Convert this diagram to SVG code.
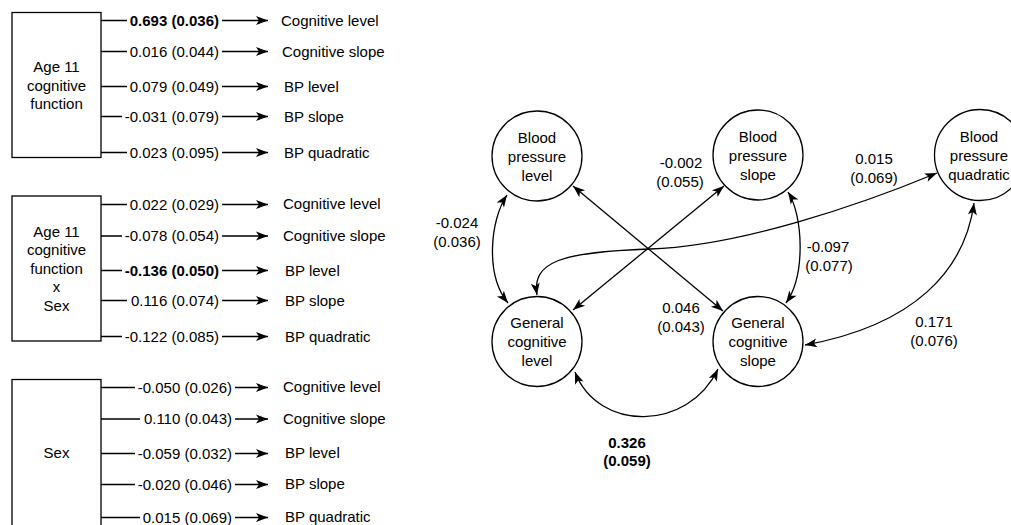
<svg xmlns="http://www.w3.org/2000/svg" width="1011" height="525" viewBox="0 0 1011 525">
<style>
text{font-family:"Liberation Sans",Arial,sans-serif;font-size:15px;fill:#000}
.b{font-weight:bold}
.m{text-anchor:middle}
.e{text-anchor:end}
.box,.node{fill:#fff;stroke:#000;stroke-width:1.3}
.c{fill:none;stroke:#000;stroke-width:1.3}
.a{marker-end:url(#ah)}
.aa{marker-start:url(#ah);marker-end:url(#ah)}
</style>
<defs>
<marker id="ah" markerUnits="userSpaceOnUse" markerWidth="13" markerHeight="10" refX="12" refY="4.5" orient="auto-start-reverse" overflow="visible">
<path d="M0,0 L12,4.5 L0,9 L3,4.5 z" fill="#000"/>
</marker>
</defs>
<rect width="1011" height="525" fill="#fff"/>

<g id="box-age11">
<rect class="box" x="12" y="12.5" width="89" height="145"/>
<text class="m" x="56.5" y="72">Age 11</text>
<text class="m" x="56.5" y="91">cognitive</text>
<text class="m" x="56.5" y="109">function</text>
</g>
<g id="box-age11xsex">
<rect class="box" x="12" y="196" width="89" height="145"/>
<text class="m" x="56.5" y="237">Age 11</text>
<text class="m" x="56.5" y="255">cognitive</text>
<text class="m" x="56.5" y="274">function</text>
<text class="m" x="56.5" y="292">x</text>
<text class="m" x="56.5" y="311">Sex</text>
</g>
<g id="box-sex">
<rect class="box" x="12" y="379.5" width="89" height="160"/>
<text class="m" x="56.5" y="458">Sex</text>
</g>

<g id="left-targets">
<text x="281" y="26">Cognitive level</text>
<text x="282" y="57">Cognitive slope</text>
<text x="284" y="92">BP level</text>
<text x="284" y="122">BP slope</text>
<text x="284" y="158">BP quadratic</text>
<text x="283" y="209">Cognitive level</text>
<text x="283" y="241">Cognitive slope</text>
<text x="285" y="276">BP level</text>
<text x="285" y="306">BP slope</text>
<text x="285" y="342">BP quadratic</text>
<text x="283" y="392">Cognitive level</text>
<text x="283" y="424">Cognitive slope</text>
<text x="285" y="458">BP level</text>
<text x="285" y="489">BP slope</text>
<text x="285" y="522">BP quadratic</text>
</g>

<g id="connectors">
<!-- box 1 -->
<path class="c" d="M101,20.5H127 M222,20.5H268" style="marker-end:url(#ah)"/>
<path class="c" d="M101,51.5H127 M222,51.5H268" style="marker-end:url(#ah)"/>
<path class="c" d="M101,86.5H127 M222,86.5H268" style="marker-end:url(#ah)"/>
<path class="c" d="M101,116.5H122 M222,116.5H268" style="marker-end:url(#ah)"/>
<path class="c" d="M101,152.5H127 M222,152.5H268" style="marker-end:url(#ah)"/>
<!-- box 2 -->
<path class="c" d="M101,204.5H127 M222,204.5H268" style="marker-end:url(#ah)"/>
<path class="c" d="M101,236H122 M222,236H268" style="marker-end:url(#ah)"/>
<path class="c" d="M101,270.5H122 M222,270.5H268" style="marker-end:url(#ah)"/>
<path class="c" d="M101,300.5H127 M222,300.5H268" style="marker-end:url(#ah)"/>
<path class="c" d="M101,336.5H122 M222,336.5H268" style="marker-end:url(#ah)"/>
<!-- box 3 -->
<path class="c" d="M101,387.5H135 M235,387.5H268" style="marker-end:url(#ah)"/>
<path class="c" d="M101,419H140 M235,419H268" style="marker-end:url(#ah)"/>
<path class="c" d="M101,453.5H135 M235,453.5H268" style="marker-end:url(#ah)"/>
<path class="c" d="M101,484.5H135 M235,484.5H268" style="marker-end:url(#ah)"/>
<path class="c" d="M101,517.5H140 M235,517.5H268" style="marker-end:url(#ah)"/>

<!-- right diagram -->
<path class="c aa" d="M507,195 C490,220 485,275 508,303"/>
<path class="c aa" d="M573,186 L723,311"/>
<path class="c aa" d="M724,186 L573,310"/>
<path class="c aa" d="M788,192 C803,215 806,275 786,303"/>
<path class="c aa" d="M537,295 C532,262 560,252 650,249 C740,246 860,205 937,173"/>
<path class="c aa" d="M974,203 C965,270 915,325 805,345"/>
<path class="c aa" d="M575,372 C598,432 688,432 718,369"/>
</g>

<g id="left-coefficients">
<text class="e b" x="219" y="26">0.693 (0.036)</text>
<text class="e" x="219" y="57">0.016 (0.044)</text>
<text class="e" x="219" y="92">0.079 (0.049)</text>
<text class="e" x="219" y="122">-0.031 (0.079)</text>
<text class="e" x="219" y="158">0.023 (0.095)</text>
<text class="e" x="219" y="210">0.022 (0.029)</text>
<text class="e" x="219" y="241">-0.078 (0.054)</text>
<text class="e b" x="219" y="276">-0.136 (0.050)</text>
<text class="e" x="219" y="306">0.116 (0.074)</text>
<text class="e" x="219" y="342">-0.122 (0.085)</text>
<text class="e" x="232" y="393">-0.050 (0.026)</text>
<text class="e" x="232" y="424">0.110 (0.043)</text>
<text class="e" x="232" y="459">-0.059 (0.032)</text>
<text class="e" x="232" y="490">-0.020 (0.046)</text>
<text class="e" x="232" y="523">0.015 (0.069)</text>
</g>

<g id="node-bp-level">
<circle class="node" cx="537" cy="156" r="45"/>
<text class="m" x="537" y="143">Blood</text>
<text class="m" x="537" y="162">pressure</text>
<text class="m" x="537" y="181">level</text>
</g>
<g id="node-bp-slope">
<circle class="node" cx="758" cy="155" r="45"/>
<text class="m" x="758" y="142">Blood</text>
<text class="m" x="758" y="161">pressure</text>
<text class="m" x="758" y="180">slope</text>
</g>
<g id="node-bp-quadratic">
<circle class="node" cx="980" cy="155" r="45.5"/>
<text class="m" x="979" y="142">Blood</text>
<text class="m" x="979" y="161">pressure</text>
<text class="m" x="979" y="180">quadratic</text>
</g>
<g id="node-cog-level">
<circle class="node" cx="537" cy="341.5" r="45"/>
<text class="m" x="537" y="328">General</text>
<text class="m" x="537" y="347">cognitive</text>
<text class="m" x="537" y="366">level</text>
</g>
<g id="node-cog-slope">
<circle class="node" cx="758" cy="341.5" r="45"/>
<text class="m" x="758" y="328">General</text>
<text class="m" x="758" y="347">cognitive</text>
<text class="m" x="758" y="366">slope</text>
</g>

<g id="right-labels">
<text class="m" x="457" y="228">-0.024</text>
<text class="m" x="457" y="247">(0.036)</text>
<text class="m" x="681" y="168">-0.002</text>
<text class="m" x="680" y="187">(0.055)</text>
<text class="m" x="874" y="164">0.015</text>
<text class="m" x="874" y="183">(0.069)</text>
<text class="m" x="828" y="252">-0.097</text>
<text class="m" x="829" y="271">(0.077)</text>
<text class="m" x="681" y="313">0.046</text>
<text class="m" x="681" y="332">(0.043)</text>
<text class="m" x="934" y="327">0.171</text>
<text class="m" x="934" y="346">(0.076)</text>
<text class="m b" x="627" y="448">0.326</text>
<text class="m b" x="627" y="466">(0.059)</text>
</g>
</svg>
